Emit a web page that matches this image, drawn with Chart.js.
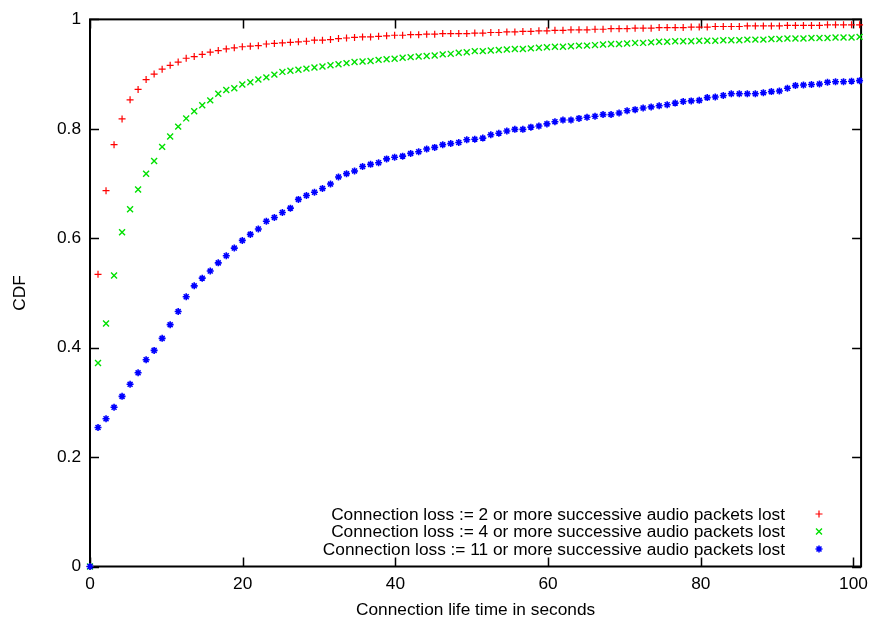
<!DOCTYPE html>
<html>
<head>
<meta charset="utf-8">
<title>Connection life time CDF</title>
<script src="https://cdn.jsdelivr.net/npm/chart.js@4.4.1/dist/chart.umd.min.js"></script>
<style>
    html, body { margin: 0; padding: 0; background: #ffffff; }
    #wrap { width: 875px; height: 625px; }
</style>
</head>
<body>
<div id="wrap"><canvas id="cdfChart" width="875" height="625"></canvas></div>
<script>
// connection life time in seconds (x of every sample)
var lifeTime = [0, 1.05, 2.1, 3.15, 4.2, 5.25, 6.3, 7.35, 8.4, 9.45,
    10.5, 11.55, 12.6, 13.65, 14.7, 15.75, 16.8, 17.85, 18.9, 19.95,
    21, 22.05, 23.1, 24.15, 25.2, 26.25, 27.3, 28.35, 29.4, 30.45,
    31.5, 32.55, 33.6, 34.65, 35.7, 36.75, 37.8, 38.85, 39.9, 40.95,
    42, 43.05, 44.1, 45.15, 46.2, 47.25, 48.3, 49.35, 50.4, 51.45,
    52.5, 53.55, 54.6, 55.65, 56.7, 57.75, 58.8, 59.85, 60.9, 61.95,
    63, 64.05, 65.1, 66.15, 67.2, 68.25, 69.3, 70.35, 71.4, 72.45,
    73.5, 74.55, 75.6, 76.65, 77.7, 78.75, 79.8, 80.85, 81.9, 82.95,
    84, 85.05, 86.1, 87.15, 88.2, 89.25, 90.3, 91.35, 92.4, 93.45,
    94.5, 95.55, 96.6, 97.65, 98.7, 99.75, 100.8];

// CDF, loss := 2 or more packets
var loss2 = [0, 0.534, 0.687, 0.771, 0.818, 0.853, 0.872, 0.890, 0.900, 0.909,
    0.916, 0.922, 0.929, 0.932, 0.936, 0.940, 0.943, 0.946, 0.948, 0.950,
    0.951, 0.952, 0.955, 0.956, 0.957, 0.958, 0.959, 0.960, 0.962, 0.962,
    0.963, 0.965, 0.966, 0.967, 0.968, 0.968, 0.969, 0.970, 0.971, 0.971,
    0.972, 0.972, 0.973, 0.973, 0.974, 0.974, 0.974, 0.974, 0.975, 0.975,
    0.976, 0.976, 0.977, 0.977, 0.978, 0.978, 0.979, 0.979, 0.980, 0.980,
    0.981, 0.981, 0.981, 0.982, 0.982, 0.983, 0.983, 0.983, 0.984, 0.984,
    0.984, 0.985, 0.985, 0.985, 0.985, 0.986, 0.986, 0.986, 0.987, 0.987,
    0.987, 0.987, 0.988, 0.988, 0.988, 0.988, 0.988, 0.989, 0.989, 0.989,
    0.989, 0.989, 0.990, 0.990, 0.990, 0.990, 0.990];

// CDF, loss := 4 or more packets
var loss4 = [0, 0.372, 0.444, 0.532, 0.611, 0.653, 0.689, 0.718, 0.741, 0.767,
    0.786, 0.804, 0.819, 0.832, 0.843, 0.852, 0.864, 0.871, 0.874, 0.881,
    0.885, 0.890, 0.894, 0.899, 0.904, 0.906, 0.908, 0.910, 0.912, 0.914,
    0.916, 0.918, 0.920, 0.922, 0.923, 0.924, 0.926, 0.927, 0.928, 0.930,
    0.931, 0.932, 0.933, 0.934, 0.936, 0.937, 0.939, 0.940, 0.942, 0.942,
    0.943, 0.944, 0.945, 0.946, 0.946, 0.947, 0.948, 0.949, 0.950, 0.950,
    0.951, 0.952, 0.952, 0.953, 0.954, 0.955, 0.955, 0.956, 0.957, 0.957,
    0.958, 0.959, 0.959, 0.960, 0.960, 0.960, 0.961, 0.961, 0.961, 0.962,
    0.962, 0.962, 0.963, 0.963, 0.963, 0.964, 0.964, 0.965, 0.965, 0.965,
    0.966, 0.966, 0.966, 0.967, 0.967, 0.967, 0.968];

// CDF, loss := 11 or more packets
var loss11 = [0, 0.254, 0.270, 0.291, 0.311, 0.333, 0.354, 0.378, 0.395, 0.417,
    0.442, 0.466, 0.493, 0.513, 0.527, 0.540, 0.555, 0.568, 0.582, 0.596,
    0.607, 0.617, 0.631, 0.638, 0.647, 0.655, 0.671, 0.678, 0.684, 0.691,
    0.699, 0.712, 0.718, 0.723, 0.731, 0.735, 0.738, 0.745, 0.748, 0.750,
    0.755, 0.758, 0.763, 0.766, 0.771, 0.773, 0.775, 0.780, 0.781, 0.783,
    0.789, 0.792, 0.796, 0.799, 0.799, 0.803, 0.805, 0.809, 0.813, 0.816,
    0.816, 0.819, 0.821, 0.823, 0.826, 0.826, 0.829, 0.833, 0.835, 0.838,
    0.840, 0.842, 0.844, 0.847, 0.850, 0.851, 0.852, 0.857, 0.858, 0.861,
    0.864, 0.864, 0.864, 0.864, 0.866, 0.868, 0.869, 0.874, 0.879, 0.880,
    0.881, 0.882, 0.885, 0.886, 0.886, 0.887, 0.888];

var seriesLabels = [
    'Connection loss := 2 or more successive audio packets lost',
    'Connection loss := 4 or more successive audio packets lost',
    'Connection loss := 11 or more successive audio packets lost'
];
var xTicks = [0, 20, 40, 60, 80, 100];
var yTicks = [0, 0.2, 0.4, 0.6, 0.8, 1];

var FONT = "'Liberation Sans', Arial, Helvetica, sans-serif";
var FONT_SIZE = 17.3;
var TICK_LEN = 9;

function toPoints(values) {
    return values.map(function (v, i) { return { x: lifeTime[i], y: v }; });
}

// gnuplot plots later series on top, so later datasets get a lower order
function makeDataset(label, values, color, style, radius, width, order) {
    return {
        label: label,
        data: toPoints(values),
        order: order,
        showLine: false,
        clip: false,
        pointStyle: style,
        pointRadius: radius,
        pointHoverRadius: radius,
        pointBorderWidth: width,
        borderColor: color,
        backgroundColor: color
    };
}

// gnuplot style frame: full box with inward ticks on all four sides
var framePlugin = {
    id: 'gnuplotFrame',
    beforeDatasetsDraw: function (chart) {
        var ctx = chart.ctx;
        var area = chart.chartArea;
        var xs = chart.scales.x;
        var ys = chart.scales.y;

        ctx.save();
        ctx.strokeStyle = '#000';
        ctx.lineWidth = 1.5;
        ctx.beginPath();

        xTicks.forEach(function (v) {
            var px = Math.round(xs.getPixelForValue(v)) + 0.5;
            ctx.moveTo(px, area.bottom);
            ctx.lineTo(px, area.bottom - TICK_LEN);
            ctx.moveTo(px, area.top);
            ctx.lineTo(px, area.top + TICK_LEN);
        });
        yTicks.forEach(function (v) {
            var py = Math.round(ys.getPixelForValue(v)) + 0.5;
            ctx.moveTo(area.left, py);
            ctx.lineTo(area.left + TICK_LEN, py);
            ctx.moveTo(area.right, py);
            ctx.lineTo(area.right - TICK_LEN, py);
        });
        ctx.stroke();

        ctx.lineWidth = 2;
        ctx.strokeRect(area.left, area.top, area.right - area.left, area.bottom - area.top);
        ctx.restore();
    }
};

// key in the lower right corner, text right aligned and sample to the right
var keyPlugin = {
    id: 'gnuplotKey',
    afterDraw: function (chart) {
        var ctx = chart.ctx;
        var textRight = 785;
        var sampleX = 819;
        var firstRow = 514;
        var rowStep = 17.5;

        ctx.save();
        ctx.font = FONT_SIZE + 'px ' + FONT;
        ctx.textAlign = 'right';
        ctx.textBaseline = 'middle';
        chart.data.datasets.forEach(function (ds, i) {
            var y = firstRow + i * rowStep;
            ctx.fillStyle = '#000';
            ctx.fillText(ds.label, textRight, y + 1);
            ctx.strokeStyle = ds.borderColor;
            ctx.fillStyle = ds.borderColor;
            ctx.lineWidth = ds.pointBorderWidth;
            Chart.helpers.drawPoint(ctx, {
                pointStyle: ds.pointStyle,
                radius: ds.pointRadius,
                borderWidth: ds.pointBorderWidth,
                rotation: 0
            }, sampleX, y);
        });
        ctx.restore();
    }
};

var cdfChart = new Chart(document.getElementById('cdfChart'), {
    type: 'scatter',
    data: {
        datasets: [
            makeDataset(seriesLabels[0], loss2, '#ff0000', 'cross', 3.5, 1.2, 3),
            makeDataset(seriesLabels[1], loss4, '#00e000', 'crossRot', 4.2, 1.4, 2),
            makeDataset(seriesLabels[2], loss11, '#0000ff', 'star', 3.5, 1.6, 1)
        ]
    },
    options: {
        responsive: false,
        animation: false,
        events: [],
        layout: {
            padding: { top: 15, right: 13, left: 0, bottom: 0 }
        },
        scales: {
            x: {
                type: 'linear',
                min: 0,
                max: 101,
                afterFit: function (scale) { scale.height = 58.5; },
                afterBuildTicks: function (scale) {
                    scale.ticks = xTicks.map(function (v) { return { value: v }; });
                },
                grid: { display: false, drawTicks: false },
                border: { display: false },
                ticks: {
                    padding: 7,
                    color: '#000',
                    font: { family: FONT, size: FONT_SIZE },
                    maxRotation: 0,
                    callback: function (v) { return String(v); }
                },
                title: {
                    display: true,
                    text: 'Connection life time in seconds',
                    color: '#000',
                    font: { family: FONT, size: FONT_SIZE },
                    padding: { top: 0, bottom: 4 }
                }
            },
            y: {
                type: 'linear',
                min: 0,
                max: 1,
                afterFit: function (scale) { scale.width = 90; },
                afterBuildTicks: function (scale) {
                    scale.ticks = yTicks.map(function (v) { return { value: v }; });
                },
                grid: { display: false, drawTicks: false },
                border: { display: false },
                ticks: {
                    padding: 9,
                    color: '#000',
                    font: { family: FONT, size: FONT_SIZE },
                    callback: function (v) { return String(Math.round(v * 10) / 10); }
                },
                title: {
                    display: true,
                    text: 'CDF',
                    color: '#000',
                    font: { family: FONT, size: FONT_SIZE },
                    padding: { top: 10, bottom: 0 }
                }
            }
        },
        plugins: {
            legend: { display: false },
            tooltip: { enabled: false }
        }
    },
    plugins: [framePlugin, keyPlugin]
});
</script>
</body>
</html>
